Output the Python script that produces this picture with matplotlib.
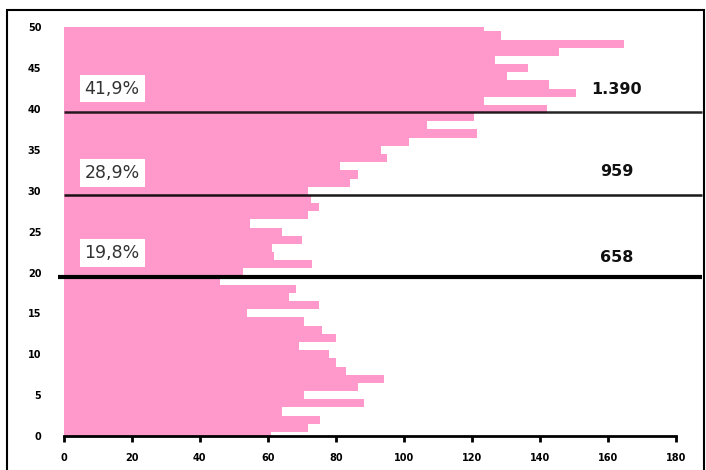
import numpy as np
import matplotlib
matplotlib.use("Agg")
import matplotlib.pyplot as plt
from matplotlib.patches import Rectangle

# bar lengths for rows 0..50
rows = list(range(0, 51))
values = [61.0, 71.8, 75.3, 64.2, 88.4, 70.8, 86.6, 94.2, 83.1, 80.2,
          78.0, 69.3, 80.2, 75.9, 70.8, 53.9, 75.0, 66.2, 68.2, 45.9,
          52.6, 73.0, 62.0, 61.2, 70.0, 64.1, 54.8, 71.8, 75.0, 72.8,
          71.8, 84.3, 86.4, 81.2, 95.1, 93.2, 101.4, 121.5, 106.8, 120.6,
          142.2, 123.5, 150.6, 142.7, 130.4, 136.6, 126.8, 145.7, 164.8, 128.6,
          123.5]

x_ticks = [0, 20, 40, 60, 80, 100, 120, 140, 160, 180]
y_ticks = [0, 5, 10, 15, 20, 25, 30, 35, 40, 45, 50]

# threshold lines with share labels and totals
line_levels = [39.6, 29.5, 19.45]
line_starts = [0.0, 0.0, -1.5]
line_widths = [1.8, 1.8, 3.0]
line_alpha = [0.85, 0.9, 1.0]
share_labels = ["41,9%", "28,9%", "19,8%"]
share_y = [42.5, 32.2, 22.4]
total_labels = ["1.390", "959", "658"]
total_y = [42.4, 32.4, 21.8]

fig = plt.figure(figsize=(7.06, 4.70), dpi=100)
ax = fig.add_axes([0.090, 0.0723, 0.8675, 0.8697])

ax.barh(rows, values, height=1.0, color="#FF99CC", edgecolor="none")

for lev, x0, lw, a in zip(line_levels, line_starts, line_widths, line_alpha):
    ax.plot([x0, 187.5], [lev, lev], color="black", lw=lw, alpha=a,
            clip_on=False, solid_capstyle="butt")

for txt, yy in zip(share_labels, share_y):
    ax.text(14.3, yy, txt, ha="center", va="center", fontsize=12.5,
            color="#333333",
            bbox=dict(facecolor="white", edgecolor="none", pad=3.5))

for txt, yy in zip(total_labels, total_y):
    ax.text(162.5, yy, txt, ha="center", va="center", fontsize=11.5,
            fontweight="bold", color="#111111")

ax.set_xlim(0, 180)
ax.set_ylim(0, 50)
ax.set_xticks(x_ticks)
ax.set_yticks(y_ticks)
ax.set_xticklabels([str(t) for t in x_ticks], fontsize=7, fontweight="bold")
ax.set_yticklabels([str(t) for t in y_ticks], fontsize=7, fontweight="bold")
ax.tick_params(axis="x", direction="out", length=4, width=2, pad=8)
ax.tick_params(axis="y", length=0, pad=16)

for side in ["top", "right", "left"]:
    ax.spines[side].set_visible(False)
ax.spines["bottom"].set_linewidth(2)

# outer frame around the chart
fig.patches.append(Rectangle((7 / 706, -0.05), 697 / 706, 0.05 + 460 / 470,
                             transform=fig.transFigure, fill=False,
                             edgecolor="black", lw=1.5))

fig.savefig("out.png", dpi=100)
